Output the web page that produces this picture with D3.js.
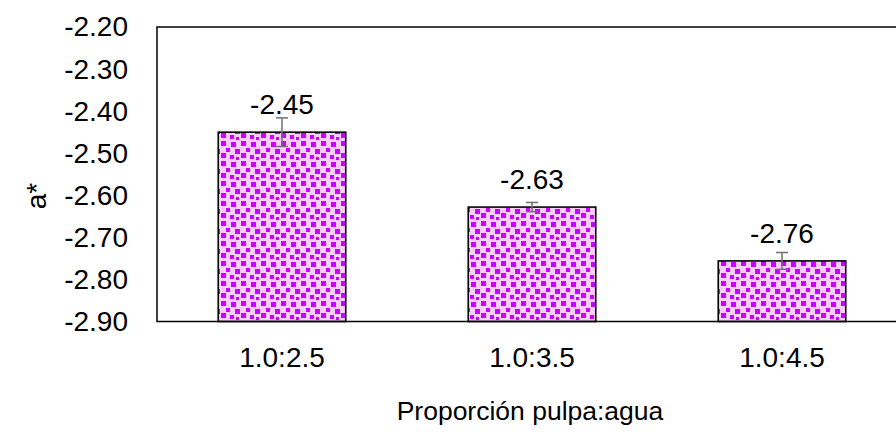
<!DOCTYPE html>
<html>
<head>
<meta charset="utf-8">
<script src="https://cdn.jsdelivr.net/npm/d3@7"></script>
<style>
html,body{margin:0;padding:0;background:#fff;}
svg{display:block;}
text{font-family:"Liberation Sans",Arial,sans-serif;fill:#000;}
</style>
</head>
<body>
<svg id="chart" width="896" height="436"></svg>
<script>
const categories = ["1.0:2.5", "1.0:3.5", "1.0:4.5"];
const values = [-2.45, -2.628, -2.756];
const labels = ["-2.45", "-2.63", "-2.76"];
const errors = [0.034, 0.011, 0.02];
const yTicks = [-2.2, -2.3, -2.4, -2.5, -2.6, -2.7, -2.8, -2.9];
const yTitle = "a*";
const xTitle = "Proporción pulpa:agua";

const svg = d3.select("#chart");
const mL = 157, mT = 27, mB = 321.5, mR = 907;
const FS = 28;

const defs = svg.append("defs");
const pat = defs.append("pattern").attr("id","confetti")
  .attr("patternUnits","userSpaceOnUse").attr("width",20).attr("height",20);
pat.append("rect").attr("width",20).attr("height",20).attr("fill","#ffccff");
const sq = [[1,1,5],[11,2,5],[6,8,4],[15,9,5],[1,13,5],[10,15,4],[16,17,3]];
sq.forEach(s=>pat.append("rect").attr("x",s[0]).attr("y",s[1]).attr("width",s[2]).attr("height",s[2]).attr("fill","#cc00ff"));

const x = d3.scaleBand().domain(categories).range([mL, mR]).paddingInner(0.49).paddingOuter(0.245);
const y = d3.scaleLinear().domain([-2.9, -2.2]).range([mB, mT]);

// bars
svg.selectAll("rect.bar").data(values).enter().append("rect")
  .attr("class","bar")
  .attr("x",(d,i)=>x(categories[i]))
  .attr("width",x.bandwidth())
  .attr("y",d=>y(d))
  .attr("height",d=>mB - y(d))
  .attr("fill","url(#confetti)")
  .attr("stroke","#000").attr("stroke-width",1.6);

// error bars
const eg = svg.append("g").attr("stroke","#707070").attr("stroke-width",1.5);
values.forEach((v,i)=>{
  const cx = x(categories[i]) + x.bandwidth()/2;
  const y1 = y(v+errors[i]), y2 = y(v-errors[i]);
  eg.append("line").attr("x1",cx).attr("x2",cx).attr("y1",y1).attr("y2",y2);
  eg.append("line").attr("x1",cx-6).attr("x2",cx+6).attr("y1",y1).attr("y2",y1);
  eg.append("line").attr("x1",cx-6).attr("x2",cx+6).attr("y1",y2).attr("y2",y2);
});

// data labels
svg.selectAll("text.lbl").data(values).enter().append("text")
  .attr("class","lbl")
  .attr("x",(d,i)=>x(categories[i]) + x.bandwidth()/2)
  .attr("y",d=>y(d) - 18)
  .attr("text-anchor","middle")
  .attr("font-size",FS)
  .text((d,i)=>labels[i]);

// plot frame
svg.append("rect").attr("x",mL).attr("y",mT).attr("width",mR-mL).attr("height",mB-mT)
  .attr("fill","none").attr("stroke","#000").attr("stroke-width",1.5);

// y axis
const yAxis = d3.axisLeft(y).tickValues(yTicks).tickSize(0).tickPadding(29)
  .tickFormat(d => d3.format(".2f")(d).replace("\u2212","-"));
const ya = svg.append("g").attr("transform",`translate(${mL},0)`).call(yAxis);
ya.select(".domain").remove();
ya.selectAll("text").attr("font-size",FS).attr("font-family","Liberation Sans, Arial, sans-serif").attr("fill","#000");

// x axis
const xAxis = d3.axisBottom(x).tickSize(0).tickPadding(26);
const xa = svg.append("g").attr("transform",`translate(0,${mB})`).call(xAxis);
xa.select(".domain").remove();
xa.selectAll("text").attr("font-size",FS).attr("font-family","Liberation Sans, Arial, sans-serif").attr("fill","#000");

// titles
svg.append("text").attr("transform",`translate(46,196) rotate(-90)`)
  .attr("text-anchor","middle").attr("font-size",FS).text(yTitle);
svg.append("text").attr("x",530).attr("y",420).attr("text-anchor","middle")
  .attr("font-size",26.5).text(xTitle);
</script>
</body>
</html>
